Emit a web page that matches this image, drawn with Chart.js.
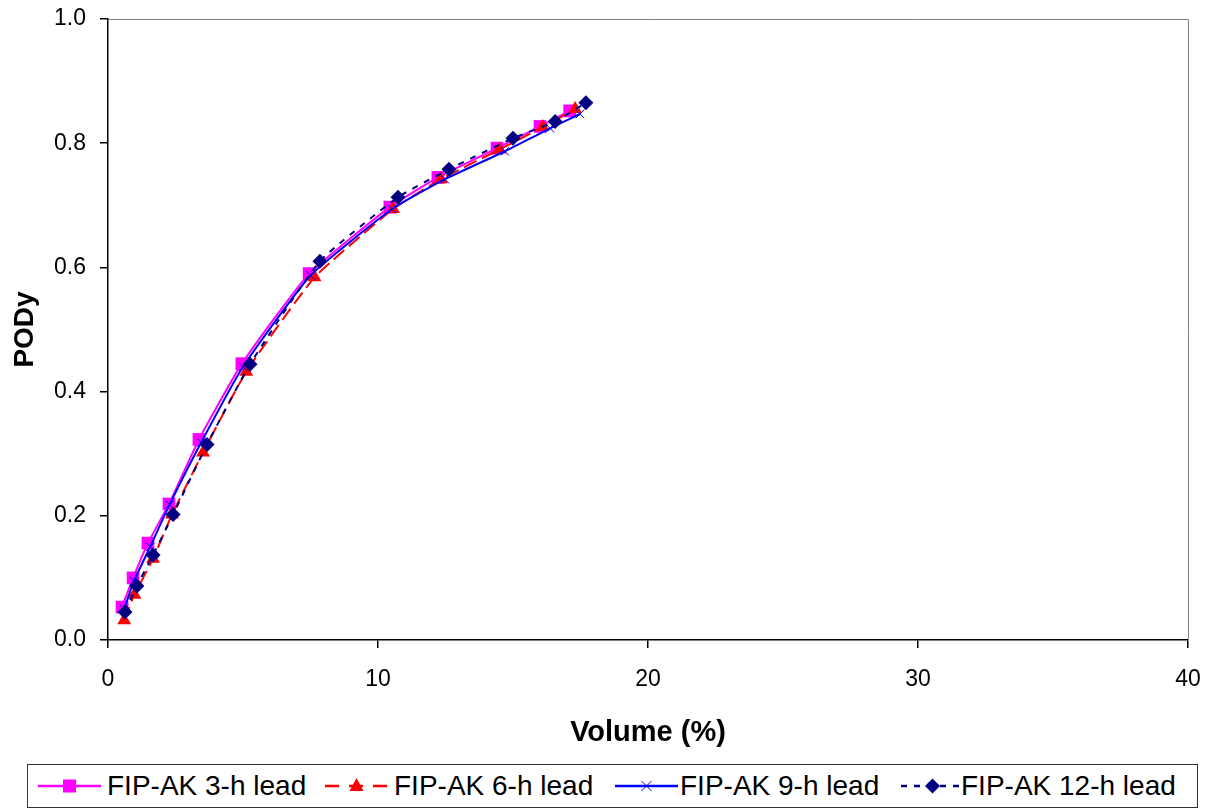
<!DOCTYPE html>
<html>
<head>
<meta charset="utf-8">
<script src="https://cdn.jsdelivr.net/npm/chart.js@4/dist/chart.umd.min.js"></script>
<style>
  body { margin: 0; background: #fff; font-family: "Liberation Sans", Arial, sans-serif; }
  #wrap { position: relative; width: 1208px; height: 810px; }
  #legend { position: absolute; left: 27px; top: 764px; width: 1171px; height: 44px;
            border: 1.5px solid #333; box-sizing: border-box; }
  .item { position: absolute; top: 0; height: 41px; line-height: 41px; font-size: 28px; color: #000; white-space: nowrap; }
  .item svg { position: absolute; top: 0; }
</style>
</head>
<body>
<div id="wrap">
  <canvas id="podChart" width="1208" height="760"></canvas>
  <div id="legend"></div>
</div>
<script>
// series: Volume (%) vs PODy
var names = ['FIP-AK 3-h lead', 'FIP-AK 6-h lead', 'FIP-AK 9-h lead', 'FIP-AK 12-h lead'];

var vol3 = [0.52, 0.93, 1.48, 2.26, 3.37, 4.96, 7.45, 10.44, 12.22, 14.41, 16.0, 17.1];
var pod3 = [0.053, 0.100, 0.156, 0.219, 0.323, 0.445, 0.590, 0.697, 0.745, 0.792, 0.827, 0.852];

var vol6 = [0.6, 0.98, 1.67, 2.37, 3.52, 5.12, 7.65, 10.56, 12.33, 14.5, 16.1, 17.3];
var pod6 = [0.032, 0.073, 0.131, 0.202, 0.302, 0.432, 0.584, 0.694, 0.742, 0.790, 0.826, 0.855];

var vol9 = [0.6, 0.96, 1.56, 2.28, 3.45, 5.0, 7.5, 10.52, 12.48, 14.7, 16.37, 17.48];
var pod9 = [0.050, 0.095, 0.150, 0.218, 0.318, 0.440, 0.587, 0.694, 0.742, 0.787, 0.824, 0.847];

var vol12 = [0.63, 1.07, 1.67, 2.41, 3.67, 5.26, 7.85, 10.74, 12.63, 15.0, 16.56, 17.7];
var pod12 = [0.045, 0.087, 0.137, 0.202, 0.315, 0.444, 0.610, 0.713, 0.758, 0.808, 0.835, 0.865];

var xTicks = [0, 10, 20, 30, 40];
var yTicks = [0.0, 0.2, 0.4, 0.6, 0.8, 1.0];

function pts(xs, ys) {
  return xs.map(function(x, i) { return {x: x, y: ys[i]}; });
}

var FONT = '"Liberation Sans", Arial, sans-serif';

// styles for each series, same order as names
var styles = [
  {color: '#FF00FF', dash: [], point: 'rect', radius: 9, fill: true, order: 4},
  {color: '#FF0000', dash: [14, 6], point: 'triangle', radius: 8, fill: true, order: 3},
  {color: '#0000FF', dash: [], point: 'crossRot', radius: 6, fill: false, order: 2},
  {color: '#000080', dash: [6, 7], point: 'rectRot', radius: 7.5, fill: true, order: 1}
];
var series = [pts(vol3, pod3), pts(vol6, pod6), pts(vol9, pod9), pts(vol12, pod12)];

// gray frame on top/right of plot area like the Excel plot area
var frame = {
  id: 'frame',
  beforeDatasetsDraw: function(chart) {
    var a = chart.chartArea, c = chart.ctx;
    c.save();
    c.strokeStyle = '#808080';
    c.lineWidth = 1;
    c.beginPath();
    c.moveTo(a.left, a.top + 0.5);
    c.lineTo(a.right + 0.5, a.top + 0.5);
    c.lineTo(a.right + 0.5, a.bottom);
    c.stroke();
    c.restore();
  }
};

new Chart('podChart', {
  type: 'scatter',
  data: {
    datasets: series.map(function(d, i) {
      var s = styles[i];
      return {
        label: names[i],
        data: d,
        showLine: true,
        order: s.order,
        borderColor: s.color,
        borderWidth: 2,
        borderDash: s.dash,
        tension: 0.15,
        pointStyle: s.point,
        pointRadius: s.radius,
        pointHoverRadius: s.radius,
        pointBackgroundColor: s.fill ? s.color : 'rgba(0,0,0,0)',
        pointBorderColor: s.color,
        pointBorderWidth: s.fill ? 0 : 1,
      };
    })
  },
  options: {
    responsive: false,
    animation: false,
    layout: { autoPadding: false, padding: { top: 19, right: 20, bottom: 6, left: 0 } },
    plugins: { legend: { display: false }, tooltip: { enabled: false } },
    scales: {
      x: {
        type: 'linear',
        min: 0, max: 40,
        afterBuildTicks: function(s) { s.ticks = xTicks.map(function(v) { return {value: v}; }); },
        afterFit: function(s) { s.height = 114; s.paddingLeft = 0; s.paddingRight = 0; },
        ticks: { color: '#000', font: { family: FONT, size: 23 }, padding: 18 },
        grid: { drawOnChartArea: false, drawTicks: true, tickLength: 8, color: '#000', lineWidth: 1.5 },
        border: { color: '#000', width: 1.5 },
        title: { display: true, text: 'Volume (%)', color: '#000', font: { family: FONT, size: 29, weight: 'bold' }, padding: { top: 4, bottom: 4 } }
      },
      y: {
        type: 'linear',
        min: 0, max: 1,
        afterBuildTicks: function(s) { s.ticks = yTicks.map(function(v) { return {value: v}; }); },
        afterFit: function(s) { s.width = 108; s.paddingTop = 0; s.paddingBottom = 0; },
        ticks: { color: '#000', font: { family: FONT, size: 23 }, padding: 14,
                 callback: function(v) { return Number(v).toFixed(1); } },
        grid: { drawOnChartArea: false, drawTicks: true, tickLength: 8, color: '#000', lineWidth: 1.5 },
        border: { color: '#000', width: 1.5 },
        title: { display: true, text: 'PODy', color: '#000', font: { family: FONT, size: 28, weight: 'bold' }, padding: { top: 8, bottom: 4 } }
      }
    }
  },
  plugins: [frame]
});

// legend box below the chart: line sample with marker, then label
var sampleLeft = [10, 297, 587, 873];
var textLeft = [79, 366, 652, 933];
var sampleW = 63;

function markerSvg(s, cx, cy) {
  if (s.point === 'rect') return '<rect x="' + (cx - 6.5) + '" y="' + (cy - 6.5) + '" width="13" height="13" fill="' + s.color + '"/>';
  if (s.point === 'triangle') return '<polygon points="' + cx + ',' + (cy - 8) + ' ' + (cx + 7) + ',' + (cy + 5) + ' ' + (cx - 7) + ',' + (cy + 5) + '" fill="' + s.color + '"/>';
  if (s.point === 'crossRot') return '<path d="M' + (cx - 5) + ' ' + (cy - 5) + 'L' + (cx + 5) + ' ' + (cy + 5) + 'M' + (cx + 5) + ' ' + (cy - 5) + 'L' + (cx - 5) + ' ' + (cy + 5) + '" stroke="' + s.color + '" stroke-width="1"/>';
  return '<polygon points="' + cx + ',' + (cy - 7.5) + ' ' + (cx + 7.5) + ',' + cy + ' ' + cx + ',' + (cy + 7.5) + ' ' + (cx - 7.5) + ',' + cy + '" fill="' + s.color + '"/>';
}

var legend = document.getElementById('legend');
names.forEach(function(n, i) {
  var s = styles[i];
  var cy = 21;
  var svg = '<svg width="' + sampleW + '" height="41" style="left:' + sampleLeft[i] + 'px">' +
    '<line x1="0" y1="' + cy + '" x2="' + sampleW + '" y2="' + cy + '" stroke="' + s.color + '" stroke-width="2.5"' +
    (s.dash.length ? ' stroke-dasharray="' + (i === 1 ? '14,10' : '6,7') + '"' : '') + '/>' +
    markerSvg(s, sampleW / 2, cy) + '</svg>';
  var item = document.createElement('div');
  item.className = 'item';
  item.style.left = '0px';
  item.innerHTML = svg + '<span style="position:absolute;left:' + textLeft[i] + 'px">' + n + '</span>';
  legend.appendChild(item);
});
</script>
</body>
</html>
